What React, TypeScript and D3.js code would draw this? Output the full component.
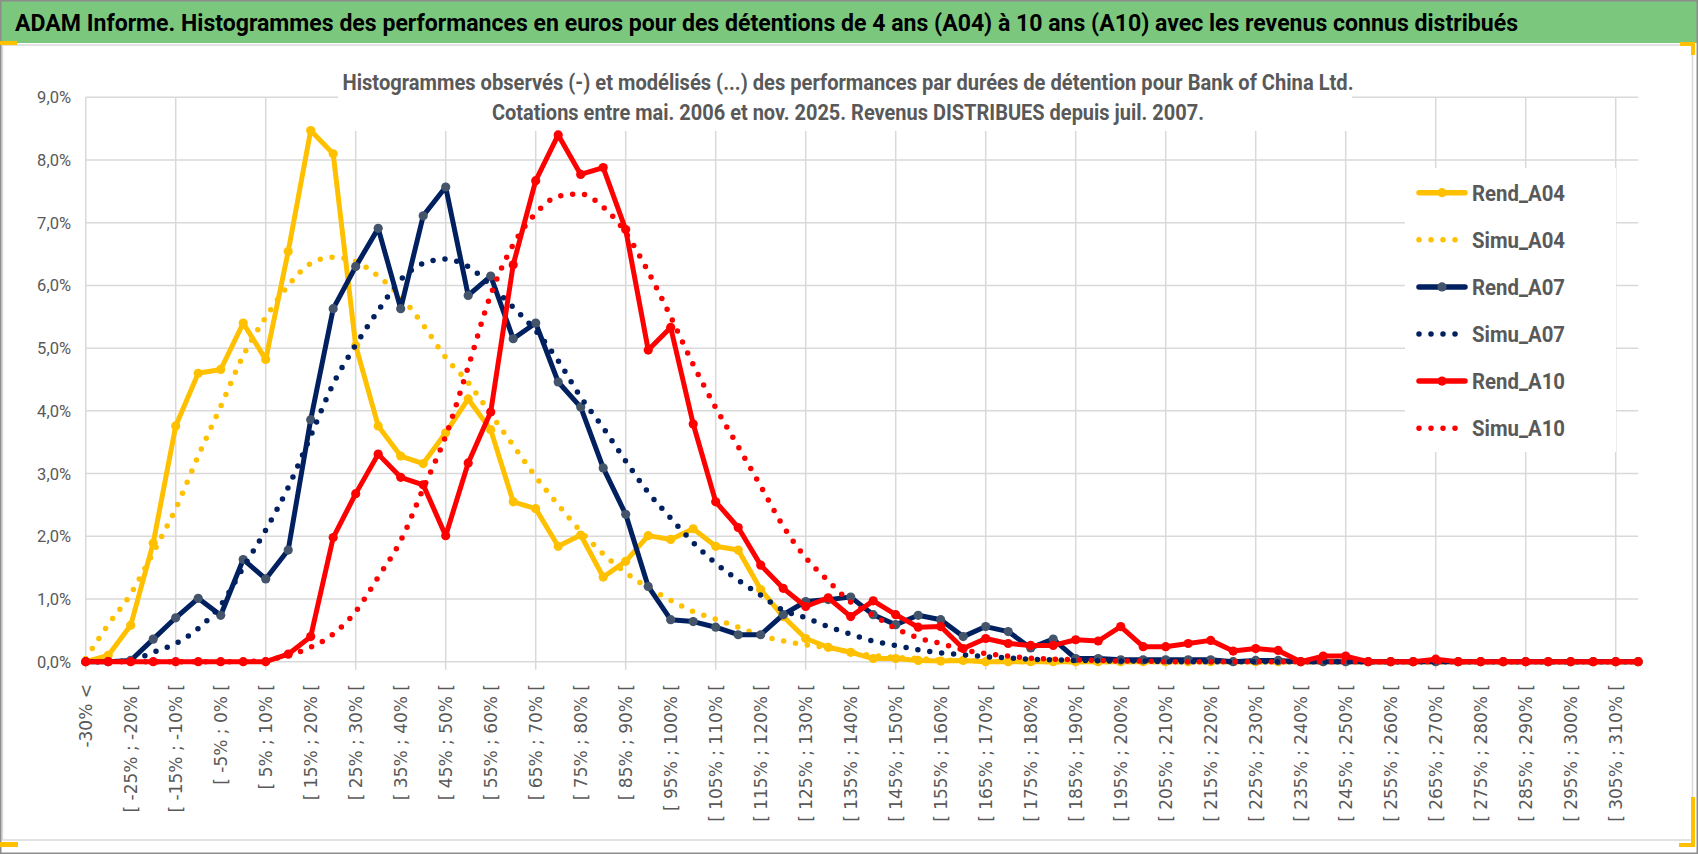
import * as d3 from "d3";
import React, { useEffect, useRef } from "react";

const W = 1698;
const H = 854;

const categories = [
  "-30% <", "[ -30% ; -25% [", "[ -25% ; -20% [", "[ -20% ; -15% [", "[ -15% ; -10% [",
  "[ -10% ; -5% [", "[ -5% ; 0% [", "[ 0% ; 5% [", "[ 5% ; 10% [", "[ 10% ; 15% [",
  "[ 15% ; 20% [", "[ 20% ; 25% [", "[ 25% ; 30% [", "[ 30% ; 35% [", "[ 35% ; 40% [",
  "[ 40% ; 45% [", "[ 45% ; 50% [", "[ 50% ; 55% [", "[ 55% ; 60% [", "[ 60% ; 65% [",
  "[ 65% ; 70% [", "[ 70% ; 75% [", "[ 75% ; 80% [", "[ 80% ; 85% [", "[ 85% ; 90% [",
  "[ 90% ; 95% [", "[ 95% ; 100% [", "[ 100% ; 105% [", "[ 105% ; 110% [", "[ 110% ; 115% [",
  "[ 115% ; 120% [", "[ 120% ; 125% [", "[ 125% ; 130% [", "[ 130% ; 135% [", "[ 135% ; 140% [",
  "[ 140% ; 145% [", "[ 145% ; 150% [", "[ 150% ; 155% [", "[ 155% ; 160% [", "[ 160% ; 165% [",
  "[ 165% ; 170% [", "[ 170% ; 175% [", "[ 175% ; 180% [", "[ 180% ; 185% [", "[ 185% ; 190% [",
  "[ 190% ; 195% [", "[ 195% ; 200% [", "[ 200% ; 205% [", "[ 205% ; 210% [", "[ 210% ; 215% [",
  "[ 215% ; 220% [", "[ 220% ; 225% [", "[ 225% ; 230% [", "[ 230% ; 235% [", "[ 235% ; 240% [",
  "[ 240% ; 245% [", "[ 245% ; 250% [", "[ 250% ; 255% [", "[ 255% ; 260% [", "[ 260% ; 265% [",
  "[ 265% ; 270% [", "[ 270% ; 275% [", "[ 275% ; 280% [", "[ 280% ; 285% [", "[ 285% ; 290% [",
  "[ 290% ; 295% [", "[ 295% ; 300% [", "[ 300% ; 305% [", "[ 305% ; 310% [", "[ 310% ; 315% [",
];

// values in %
const rendA04 = [
  0, 0.1, 0.58, 1.89, 3.76, 4.6, 4.66, 5.4, 4.82, 6.54,
  8.47, 8.1, 5.04, 3.76, 3.28, 3.16, 3.65, 4.19, 3.7, 2.55,
  2.44, 1.84, 2.02, 1.35, 1.6, 2.01, 1.95, 2.12, 1.84, 1.78,
  1.15, 0.72, 0.37, 0.23, 0.15, 0.05, 0.05, 0.02, 0.01, 0.02,
  0, 0, 0, 0, 0, 0, 0, 0, 0, 0,
  0, 0, 0, 0, 0, 0, 0, 0, 0, 0,
  0, 0, 0, 0, 0, 0, 0, 0, 0, 0,
];
const simuA04 = [
  0.05, 0.59, 1.08, 1.74, 2.44, 3.28, 4.07, 4.88, 5.49, 6.0,
  6.35, 6.45, 6.38, 6.15, 5.82, 5.37, 4.85, 4.45, 3.95, 3.45,
  2.95, 2.5, 2.08, 1.72, 1.42, 1.18, 0.98, 0.8, 0.68, 0.55,
  0.42, 0.33, 0.27, 0.22, 0.15, 0.1, 0.07, 0.05, 0.03, 0.02,
  0.01, 0, 0, 0, 0, 0, 0, 0, 0, 0,
  0, 0, 0, 0, 0, 0, 0, 0, 0, 0,
  0, 0, 0, 0, 0, 0, 0, 0, 0, 0,
];
const rendA07 = [
  0, 0, 0.02, 0.36, 0.7, 1.01, 0.74, 1.63, 1.32, 1.78,
  3.86, 5.63, 6.3, 6.91, 5.63, 7.11, 7.57, 5.84, 6.15, 5.15,
  5.4, 4.46, 4.06, 3.09, 2.35, 1.2, 0.67, 0.64, 0.55, 0.43,
  0.43, 0.75, 0.96, 0.99, 1.03, 0.75, 0.59, 0.74, 0.67, 0.4,
  0.56, 0.48, 0.22, 0.36, 0.05, 0.05, 0.03, 0.03, 0.03, 0.03,
  0.03, 0, 0.02, 0.02, 0, 0, 0, 0, 0, 0,
  0, 0, 0, 0, 0, 0, 0, 0, 0, 0,
];
const simuA07 = [
  0, 0, 0.02, 0.15, 0.29, 0.53, 0.9, 1.5, 2.1, 2.78,
  3.6, 4.43, 5.05, 5.6, 6.09, 6.35, 6.42, 6.3, 6.0, 5.65,
  5.28, 4.8, 4.22, 3.73, 3.2, 2.7, 2.29, 1.9, 1.57, 1.3,
  1.06, 0.82, 0.7, 0.56, 0.44, 0.33, 0.26, 0.19, 0.14, 0.11,
  0.08, 0.06, 0.04, 0.03, 0.02, 0.015, 0.01, 0.01, 0, 0,
  0, 0, 0, 0, 0, 0, 0, 0, 0, 0,
  0, 0, 0, 0, 0, 0, 0, 0, 0, 0,
];
const rendA10 = [
  0, 0, 0, 0, 0, 0, 0, 0, 0, 0.12,
  0.4, 1.98, 2.68, 3.31, 2.94, 2.82, 2.01, 3.17, 3.98, 6.33,
  7.67, 8.4, 7.77, 7.88, 6.89, 4.97, 5.33, 3.79, 2.55, 2.14,
  1.54, 1.17, 0.88, 1.02, 0.72, 0.97, 0.75, 0.55, 0.56, 0.21,
  0.37, 0.29, 0.26, 0.26, 0.35, 0.33, 0.56, 0.24, 0.24, 0.29,
  0.34, 0.17, 0.21, 0.18, 0, 0.09, 0.09, 0, 0, 0,
  0.04, 0, 0, 0, 0, 0, 0, 0, 0, 0,
];
const simuA10 = [
  0, 0, 0, 0, 0, 0, 0, 0, 0.03, 0.1,
  0.23, 0.44, 0.8, 1.35, 1.93, 2.76, 3.6, 4.7, 5.85, 6.65,
  7.15, 7.42, 7.46, 7.25, 6.84, 6.22, 5.5, 4.74, 4.05, 3.43,
  2.8, 2.16, 1.66, 1.29, 0.95, 0.74, 0.53, 0.38, 0.29, 0.19,
  0.13, 0.09, 0.055, 0.04, 0.03, 0.02, 0.01, 0.01, 0, 0,
  0, 0, 0, 0, 0, 0, 0, 0, 0, 0,
  0, 0, 0, 0, 0, 0, 0, 0, 0, 0,
];

const seriesNames = ["Rend_A04", "Simu_A04", "Rend_A07", "Simu_A07", "Rend_A10", "Simu_A10"];
const yTicks = [0, 1, 2, 3, 4, 5, 6, 7, 8, 9];

const title =
  "ADAM Informe. Histogrammes des performances en euros pour des détentions de 4 ans (A04) à 10 ans (A10) avec les revenus connus distribués";
const subtitle1 =
  "Histogrammes observés (-) et modélisés (...) des performances par durées de détention pour Bank of China Ltd.";
const subtitle2 =
  "Cotations entre mai. 2006 et nov. 2025. Revenus DISTRIBUES depuis juil. 2007.";

const GOLD = "#ffc000";
const NAVY = "#002060";
const RED = "#ff0000";
const GREY_TXT = "#595959";
const GRID = "#d9d9d9";

const App: React.FC = () => {
  const svgRef = useRef<SVGSVGElement>(null);

  useEffect(() => {
    if (!svgRef.current) return;
    const svg = d3.select(svgRef.current);
    svg.selectAll("*").remove();

    const series = [
      { name: seriesNames[0], values: rendA04, color: GOLD, dotted: false, marker: GOLD },
      { name: seriesNames[1], values: simuA04, color: GOLD, dotted: true, marker: null },
      { name: seriesNames[2], values: rendA07, color: NAVY, dotted: false, marker: "#44546a" },
      { name: seriesNames[3], values: simuA07, color: NAVY, dotted: true, marker: null },
      { name: seriesNames[4], values: rendA10, color: RED, dotted: false, marker: RED },
      { name: seriesNames[5], values: simuA10, color: RED, dotted: true, marker: null },
    ];

    // frame
    svg.append("rect").attr("width", W).attr("height", H).attr("fill", "#fff");
    svg.append("rect")
      .attr("x", 1).attr("y", 1).attr("width", W - 2).attr("height", 42)
      .attr("fill", "#7cc77e");
    svg.append("rect")
      .attr("x", 2.5).attr("y", 45).attr("width", 1690).attr("height", 795)
      .attr("fill", "none").attr("stroke", GRID).attr("stroke-width", 1.5);
    svg.append("rect")
      .attr("x", 0.75).attr("y", 0.75).attr("width", W - 1.5).attr("height", H - 1.5)
      .attr("fill", "none").attr("stroke", "#8c8c8c").attr("stroke-width", 1.5);

    // selection handles
    const handles = [
      [0, 41, 17, 4], [1680, 42, 15, 4], [1691, 42, 4, 13],
      [0, 842, 18, 5], [1679, 843, 16, 4], [1691, 797, 4, 50],
    ];
    svg.selectAll(".handle").data(handles).join("rect")
      .attr("x", (d) => d[0]).attr("y", (d) => d[1])
      .attr("width", (d) => d[2]).attr("height", (d) => d[3])
      .attr("fill", GOLD);

    svg.append("text")
      .attr("x", 15).attr("y", 30.5)
      .attr("textLength", 1503).attr("lengthAdjust", "spacingAndGlyphs")
      .style("font-family", "Roboto, sans-serif").style("font-weight", 700)
      .style("font-size", "24px").attr("fill", "#000")
      .text(title);

    const x = d3.scalePoint<string>().domain(categories).range([85.7, 1638.2]);
    const y = d3.scaleLinear().domain([0, 9]).range([661.7, 97.3]);
    const px = (i: number) => x(categories[i]) as number;

    const g = svg.append("g");

    // gridlines
    g.selectAll(".hgrid").data(yTicks).join("line")
      .attr("x1", px(0)).attr("x2", px(categories.length - 1))
      .attr("y1", (d) => y(d)).attr("y2", (d) => y(d))
      .attr("stroke", GRID).attr("stroke-width", 1.5);

    const vcats = categories.filter((_, i) => i % 4 === 0);
    g.selectAll(".vgrid").data(vcats).join("line")
      .attr("x1", (d) => x(d) as number).attr("x2", (d) => x(d) as number)
      .attr("y1", y(9)).attr("y2", y(0) + 8)
      .attr("stroke", GRID).attr("stroke-width", 1.5);

    // y labels
    g.selectAll(".ylab").data(yTicks).join("text")
      .attr("x", 71).attr("y", (d) => y(d) + 6)
      .attr("text-anchor", "end")
      .style("font-family", "Roboto, sans-serif").style("font-size", "16.5px")
      .attr("fill", GREY_TXT)
      .text((d) => `${d.toFixed(1).replace(".", ",")}%`);

    // x labels (every other category)
    const xcats = categories.filter((_, i) => i % 2 === 0);
    g.selectAll(".xlab").data(xcats).join("text")
      .attr("transform", (d) => `translate(${(x(d) as number) + 6},684) rotate(-90)`)
      .attr("text-anchor", "end")
      .style("font-family", "'DejaVu Sans', sans-serif").style("font-size", "17px")
      .attr("fill", GREY_TXT)
      .text((d) => d);

    // subtitle box
    g.append("rect").attr("x", 338).attr("y", 48).attr("width", 1014).attr("height", 83).attr("fill", "#fff");
    const sub = [
      { t: subtitle1, y: 89.5, len: 1011 },
      { t: subtitle2, y: 119.5, len: 712 },
    ];
    g.selectAll(".sub").data(sub).join("text")
      .attr("x", 848).attr("y", (d) => d.y)
      .attr("text-anchor", "middle")
      .attr("textLength", (d) => d.len).attr("lengthAdjust", "spacingAndGlyphs")
      .style("font-family", "Roboto, sans-serif").style("font-weight", 700)
      .style("font-size", "22px").attr("fill", GREY_TXT)
      .text((d) => d.t);

    // legend box
    g.append("rect").attr("x", 1405).attr("y", 168).attr("width", 211).attr("height", 284).attr("fill", "#fff");

    // series
    const line = d3.line<number>().x((_, i) => px(i)).y((d) => y(d));
    const smooth = d3.line<number>().x((_, i) => px(i)).y((d) => y(d)).curve(d3.curveMonotoneX);

    series.forEach((s) => {
      const sg = g.append("g");
      sg.append("path")
        .attr("d", (s.dotted ? smooth : line)(s.values) as string)
        .attr("fill", "none")
        .attr("stroke", s.color)
        .attr("stroke-width", s.dotted ? 5.5 : 5)
        .attr("stroke-linecap", "round")
        .attr("stroke-linejoin", "round")
        .attr("stroke-dasharray", s.dotted ? "0 12" : null);
      if (s.marker) {
        sg.selectAll("circle").data(s.values).join("circle")
          .attr("cx", (_, i) => px(i)).attr("cy", (d) => y(d))
          .attr("r", 4.6).attr("fill", s.marker);
      }
    });

    // legend
    const lg = g.append("g");
    series.forEach((s, i) => {
      const cy = 192.7 + i * 47.1;
      if (s.dotted) {
        lg.append("line")
          .attr("x1", 1419).attr("x2", 1456).attr("y1", cy).attr("y2", cy)
          .attr("stroke", s.color).attr("stroke-width", 5.5)
          .attr("stroke-linecap", "round").attr("stroke-dasharray", "0 12");
      } else {
        lg.append("line")
          .attr("x1", 1419).attr("x2", 1465).attr("y1", cy).attr("y2", cy)
          .attr("stroke", s.color).attr("stroke-width", 5.5)
          .attr("stroke-linecap", "round");
        lg.append("circle").attr("cx", 1442).attr("cy", cy).attr("r", 4.6).attr("fill", s.marker as string);
      }
      lg.append("text")
        .attr("x", 1472).attr("y", cy + 8)
        .attr("textLength", 93).attr("lengthAdjust", "spacingAndGlyphs")
        .style("font-family", "Roboto, sans-serif").style("font-weight", 700)
        .style("font-size", "22px").attr("fill", GREY_TXT)
        .text(s.name);
    });
  }, []);

  return (
    <svg
      ref={svgRef}
      width={W}
      height={H}
      style={{ position: "absolute", left: 0, top: 0, display: "block" }}
    />
  );
};

export default App;
